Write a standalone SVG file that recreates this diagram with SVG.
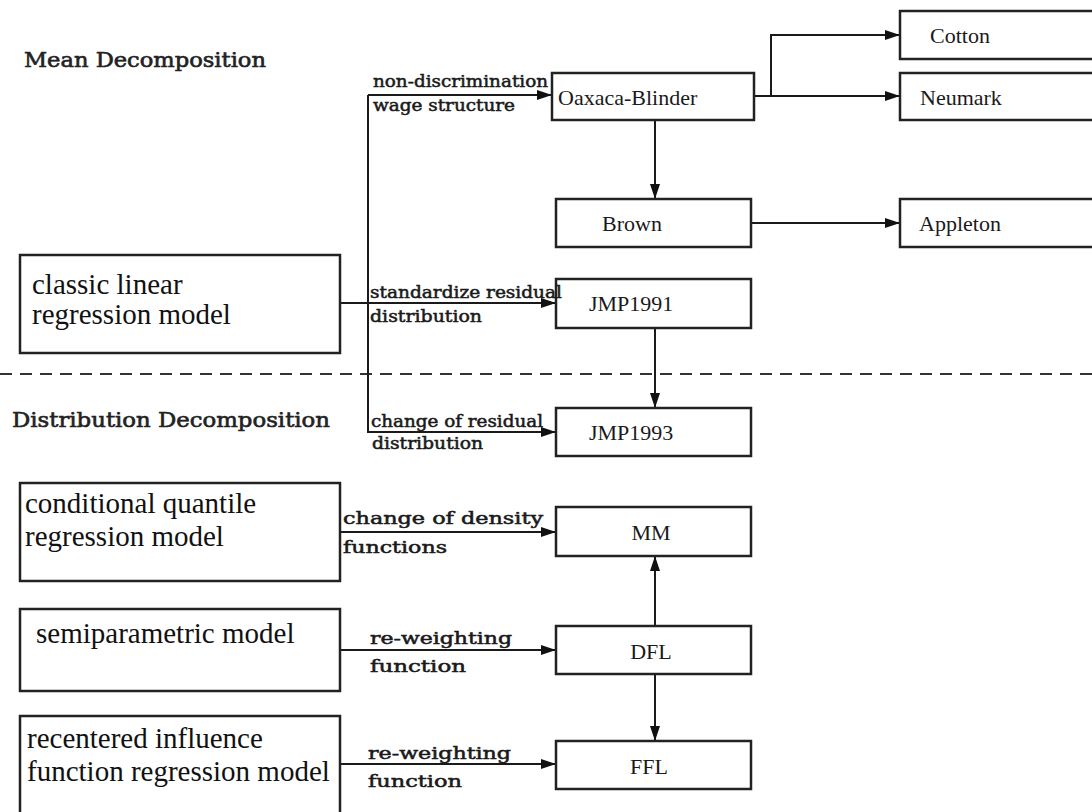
<svg xmlns="http://www.w3.org/2000/svg" width="1092" height="812" viewBox="0 0 1092 812">
<style>
.box{fill:#fff;stroke:#222;stroke-width:2.5}
.bt{font-family:'Liberation Serif','DejaVu Serif',serif;font-size:22px;fill:#1a1a1a}
.lt{font-family:'Liberation Serif','DejaVu Serif',serif;font-size:29px;fill:#111}
.lab{font-family:'DejaVu Serif',serif;font-size:16px;fill:#1a1a1a;stroke:#1a1a1a;stroke-width:0.5}
.ttl{font-family:'DejaVu Serif',serif;font-size:20px;fill:#222;stroke:#222;stroke-width:0.6}
.ln{fill:none;stroke:#1a1a1a;stroke-width:2}
.arr{fill:none;stroke:#1a1a1a;stroke-width:2;marker-end:url(#ah)}
</style>
<defs>
<marker id="ah" markerUnits="userSpaceOnUse" markerWidth="16" markerHeight="12" refX="15" refY="6" orient="auto">
<path d="M0,1 L15,6 L0,11 Z" fill="#111"/>
</marker>
</defs>
<rect width="1092" height="812" fill="#fff"/>

<g id="titles">
<text class="ttl" x="24" y="67" textLength="242" lengthAdjust="spacingAndGlyphs">Mean Decomposition</text>
<text class="ttl" x="12" y="427" textLength="318" lengthAdjust="spacingAndGlyphs">Distribution Decomposition</text>
</g>

<line x1="0" y1="374" x2="1092" y2="374" stroke="#333" stroke-width="2" stroke-dasharray="12 8"/>

<g id="connectors">
<path class="arr" d="M340,303 L556,303"/>
<path class="ln" d="M368,303 L368,95"/>
<path class="arr" d="M368,95 L552,95"/>
<path class="arr" d="M368,303 L368,432 L556,432"/>
<path class="arr" d="M754,96 L900,96"/>
<path class="arr" d="M771,96 L771,35 L900,35"/>
<path class="arr" d="M655,120 L655,199"/>
<path class="arr" d="M751,223 L900,223"/>
<path class="arr" d="M655,328 L655,408"/>
<path class="arr" d="M340,532 L556,532"/>
<path class="arr" d="M340,650 L556,650"/>
<path class="arr" d="M340,764 L556,764"/>
<path class="arr" d="M655,626 L655,556"/>
<path class="arr" d="M655,674 L655,741"/>
</g>

<g id="classic">
<rect class="box" x="20" y="255" width="320" height="98"/>
<text class="lt" x="32" y="294">classic linear</text>
<text class="lt" x="32" y="324">regression model</text>
</g>
<g id="conditional">
<rect class="box" x="20" y="483" width="320" height="98"/>
<text class="lt" x="25" y="513">conditional quantile</text>
<text class="lt" x="25" y="546">regression model</text>
</g>
<g id="semiparametric">
<rect class="box" x="20" y="609" width="320" height="82"/>
<text class="lt" x="36" y="643">semiparametric model</text>
</g>
<g id="recentered">
<rect class="box" x="20" y="716" width="320" height="120"/>
<text class="lt" x="27" y="748">recentered influence</text>
<text class="lt" x="27" y="781">function regression model</text>
</g>

<g id="oaxaca">
<rect class="box" x="552" y="73" width="202" height="47"/>
<text class="bt" x="558" y="105">Oaxaca-Blinder</text>
</g>
<g id="cotton">
<rect class="box" x="900" y="11" width="210" height="48"/>
<text class="bt" x="930" y="43">Cotton</text>
</g>
<g id="neumark">
<rect class="box" x="900" y="73" width="210" height="47"/>
<text class="bt" x="920" y="105">Neumark</text>
</g>
<g id="brown">
<rect class="box" x="556" y="199" width="195" height="48"/>
<text class="bt" x="602" y="231">Brown</text>
</g>
<g id="appleton">
<rect class="box" x="900" y="199" width="210" height="48"/>
<text class="bt" x="919" y="231">Appleton</text>
</g>
<g id="jmp1991">
<rect class="box" x="556" y="279" width="195" height="49"/>
<text class="bt" x="589" y="311">JMP1991</text>
</g>
<g id="jmp1993">
<rect class="box" x="556" y="408" width="195" height="48"/>
<text class="bt" x="589" y="440">JMP1993</text>
</g>
<g id="mm">
<rect class="box" x="556" y="507" width="195" height="49"/>
<text class="bt" x="651" y="540" text-anchor="middle">MM</text>
</g>
<g id="dfl">
<rect class="box" x="556" y="626" width="195" height="48"/>
<text class="bt" x="651" y="659" text-anchor="middle">DFL</text>
</g>
<g id="ffl">
<rect class="box" x="556" y="741" width="195" height="48"/>
<text class="bt" x="649" y="774" text-anchor="middle">FFL</text>
</g>

<g id="labels">
<text class="lab" x="373" y="87" textLength="175" lengthAdjust="spacingAndGlyphs">non-discrimination</text>
<text class="lab" x="373" y="111" textLength="142" lengthAdjust="spacingAndGlyphs">wage structure</text>
<text class="lab" x="370" y="298" textLength="192" lengthAdjust="spacingAndGlyphs">standardize residual</text>
<text class="lab" x="370" y="322" textLength="112" lengthAdjust="spacingAndGlyphs">distribution</text>
<text class="lab" x="371" y="427" textLength="172" lengthAdjust="spacingAndGlyphs">change of residual</text>
<text class="lab" x="372" y="449" textLength="111" lengthAdjust="spacingAndGlyphs">distribution</text>
<text class="lab" x="343" y="524" textLength="200" lengthAdjust="spacingAndGlyphs">change of density</text>
<text class="lab" x="343" y="553" textLength="104" lengthAdjust="spacingAndGlyphs">functions</text>
<text class="lab" x="370" y="644" textLength="142" lengthAdjust="spacingAndGlyphs">re-weighting</text>
<text class="lab" x="370" y="672" textLength="96" lengthAdjust="spacingAndGlyphs">function</text>
<text class="lab" x="368" y="759" textLength="143" lengthAdjust="spacingAndGlyphs">re-weighting</text>
<text class="lab" x="368" y="787" textLength="94" lengthAdjust="spacingAndGlyphs">function</text>
</g>
</svg>
